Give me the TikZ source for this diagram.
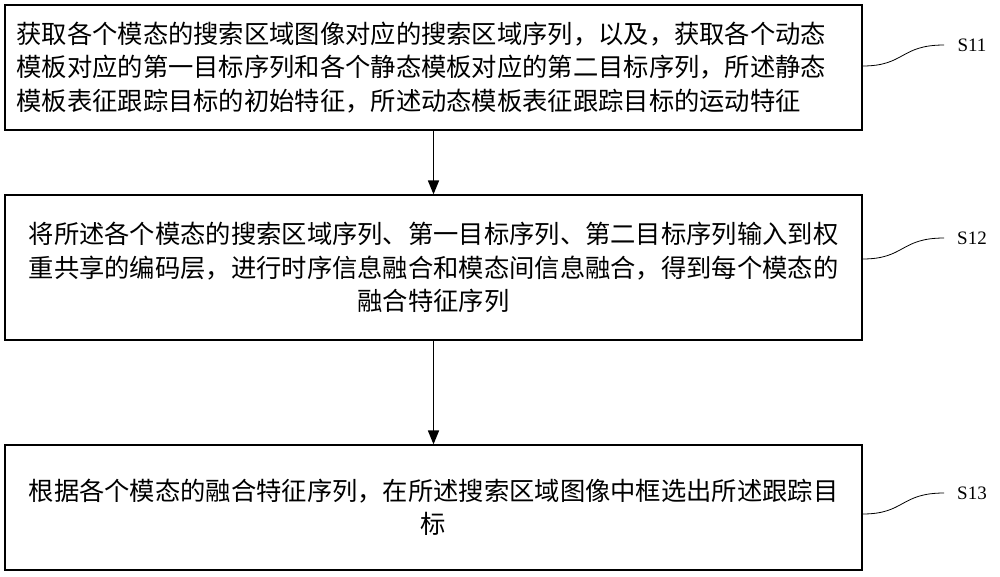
\documentclass[tikz,border=0pt]{standalone}
\usepackage{fontspec}
\usetikzlibrary{arrows.meta}
\newfontfamily\cjk{Noto Sans CJK SC}
\setmainfont{Liberation Serif}
\begin{document}
\begin{tikzpicture}[x=1pt,y=-1pt,
  stepbox/.style={draw,line width=1.2pt,minimum width=857pt,inner sep=0pt},
  txt/.style={font=\cjk\fontsize{25.3}{33.5}\selectfont},
  arr/.style={-{Triangle[length=14pt,width=11pt]},line width=1.6pt},
  lbl/.style={font=\fontsize{19}{22}\selectfont}]
\useasboundingbox (0,0) rectangle (1000,576);
\node[stepbox,minimum height=125pt] (b1) at (433.5,67.5) {};
\node[stepbox,minimum height=145pt] (b2) at (433.5,267.5) {};
\node[stepbox,minimum height=125pt] (b3) at (433.5,507.5) {};
\node[txt,align=left,anchor=west] (t1) at (13,67.5) {获取各个模态的搜索区域图像对应的搜索区域序列，以及，获取各个动态\\模板对应的第一目标序列和各个静态模板对应的第二目标序列，所述静态\\模板表征跟踪目标的初始特征，所述动态模板表征跟踪目标的运动特征};
\node[txt,align=center] (t2) at (433.5,267.5) {将所述各个模态的搜索区域序列、第一目标序列、第二目标序列输入到权\\重共享的编码层，进行时序信息融合和模态间信息融合，得到每个模态的\\融合特征序列};
\node[txt,align=center] (t3) at (433.5,507.5) {根据各个模态的融合特征序列，在所述搜索区域图像中框选出所述跟踪目\\标};
\draw[arr] (b1.south) -- (b2.north);
\draw[arr] (b2.south) -- (b3.north);
\node[lbl] (s1) at (972,45) {S11};
\node[lbl] (s2) at (972,238) {S12};
\node[lbl] (s3) at (972,493) {S13};
\coordinate (c1) at (944,45);
\coordinate (c2) at (944,238);
\coordinate (c3) at (944,493);
\draw[line width=0.8pt] (b1.east |- 0,66) .. controls (905,66) and (900,45) .. (c1);
\draw[line width=0.8pt] (b2.east |- 0,259) .. controls (905,259) and (900,238) .. (c2);
\draw[line width=0.8pt] (b3.east |- 0,514) .. controls (905,514) and (900,493) .. (c3);
\end{tikzpicture}
\end{document}
